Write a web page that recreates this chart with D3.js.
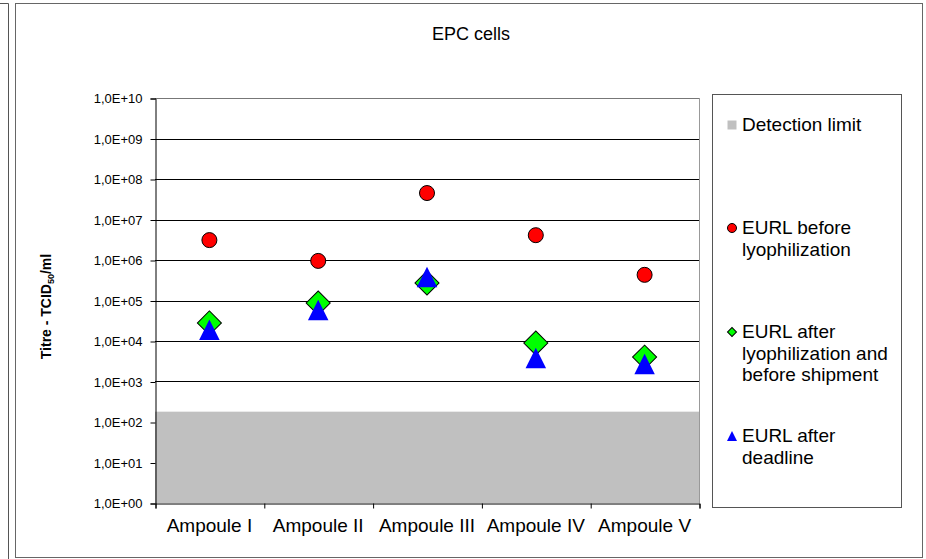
<!DOCTYPE html>
<html>
<head>
<meta charset="utf-8">
<script src="https://cdn.jsdelivr.net/npm/d3@7"></script>
<style>
  body { margin: 0; background: #fff; }
  svg { display: block; font-family: "Liberation Sans", Arial, sans-serif; }
</style>
</head>
<body>
<svg id="chart"></svg>
<script>
(function() {

    // Data
    const categories = ['Ampoule I', 'Ampoule II', 'Ampoule III', 'Ampoule IV', 'Ampoule V'];
    const detectionLimit = [180, 180, 180, 180, 180];
    const beforeLyo = [3.1e6, 9.5e5, 4.5e7, 4.1e6, 4.3e5];
    const afterLyo = [2.8e4, 8.7e4, 2.7e5, 8.9e3, 4.0e3];
    const afterDeadline = [1.9e4, 5.8e4, 3.8e5, 3.8e3, 2.7e3];
    const yTicks = [1e0, 1e1, 1e2, 1e3, 1e4, 1e5, 1e6, 1e7, 1e8, 1e9, 1e10];

    const w = 926;
    const h = 559;
    const plot = { left: 155, right: 699, top: 98, bottom: 503 };

    const svg = d3.select('#chart')
        .attr('width', w)
        .attr('height', h);

    // Frames
    svg.append('path')
        .attr('d', 'M0,3.5H8.5V559')
        .attr('fill', 'none')
        .attr('stroke', '#555');

    svg.append('rect')
        .attr('x', 15.5).attr('y', 3.5)
        .attr('width', 907).attr('height', 554)
        .attr('fill', '#fff')
        .attr('stroke', '#666');

    // Scales
    const scaleX = d3.scaleBand()
        .domain(categories)
        .range([plot.left, plot.right]);

    const scaleY = d3.scaleLog()
        .domain([1, 1e10])
        .range([plot.bottom, plot.top]);

    const fmt = d => '1,0E+' + String(Math.round(Math.log10(d))).padStart(2, '0');

    // Detection limit band
    svg.append('rect')
        .attr('x', plot.left)
        .attr('y', scaleY(detectionLimit[0]))
        .attr('width', plot.right - plot.left)
        .attr('height', plot.bottom - scaleY(detectionLimit[0]))
        .attr('fill', '#c0c0c0');

    // Gridlines
    svg.append('g')
        .selectAll('line')
        .data(yTicks.filter(d => d >= 1e3))
        .enter()
        .append('line')
        .attr('x1', plot.left)
        .attr('x2', plot.right)
        .attr('y1', d => Math.round(scaleY(d)) + 0.5)
        .attr('y2', d => Math.round(scaleY(d)) + 0.5)
        .attr('stroke', d => d === 1e10 ? '#777' : '#000');

    // right edge of plot
    svg.append('line')
        .attr('x1', plot.right + 0.5).attr('x2', plot.right + 0.5)
        .attr('y1', plot.top).attr('y2', plot.bottom)
        .attr('stroke', '#999');

    // Axes
    const yAxis = d3.axisLeft(scaleY)
        .tickValues(yTicks)
        .tickFormat(fmt)
        .tickSize(5)
        .tickPadding(8);

    const gy = svg.append('g')
        .attr('transform', `translate(${plot.left + 0.5}, 0.5)`)
        .call(yAxis);
    gy.select('.domain').attr('stroke', '#000');
    gy.selectAll('text')
        .attr('font-size', 13)
        .attr('font-family', '"Liberation Sans", Arial, sans-serif')
        .attr('fill', '#000');

    const xEdges = d3.axisBottom(d3.scaleLinear().domain([0, 5]).range([plot.left, plot.right]))
        .ticks(5)
        .tickSize(5)
        .tickFormat('');

    const gx = svg.append('g')
        .attr('transform', `translate(0.5, ${plot.bottom + 0.5})`)
        .call(xEdges);
    gx.select('.domain').attr('stroke', '#000');

    svg.append('g')
        .selectAll('text')
        .data(categories)
        .enter()
        .append('text')
        .attr('x', d => scaleX(d) + scaleX.bandwidth() / 2)
        .attr('y', 532)
        .attr('text-anchor', 'middle')
        .attr('font-size', 19)
        .text(d => d);

    // Title
    svg.append('text')
        .attr('x', 471)
        .attr('y', 40)
        .attr('text-anchor', 'middle')
        .attr('font-size', 18)
        .text('EPC cells');

    // Y axis title
    const yt = svg.append('text')
        .attr('transform', `translate(51, ${(plot.top + plot.bottom) / 2 + 6}) rotate(-90)`)
        .attr('text-anchor', 'middle')
        .attr('font-size', 14)
        .attr('font-weight', 'bold');
    yt.append('tspan').text('Titre - TCID');
    yt.append('tspan').attr('font-size', 9).attr('dy', 3).text('50');
    yt.append('tspan').attr('dy', -3).text('/ml');

    // Markers
    const cx = i => scaleX(categories[i]) + scaleX.bandwidth() / 2;

    const triangle = {
        draw(context, size) {
            const s = Math.sqrt(size);
            context.moveTo(0, -s / 2);
            context.lineTo(s / 2, s / 2);
            context.lineTo(-s / 2, s / 2);
            context.closePath();
        }
    };

    svg.append('g')
        .selectAll('path')
        .data(beforeLyo)
        .enter()
        .append('path')
        .attr('d', d3.symbol(d3.symbolCircle, 177))
        .attr('transform', (d, i) => `translate(${cx(i)}, ${scaleY(d)})`)
        .attr('fill', '#ff0000')
        .attr('stroke', '#000')
        .attr('stroke-width', 1);

    svg.append('g')
        .selectAll('path')
        .data(afterLyo)
        .enter()
        .append('path')
        .attr('d', d3.symbol(d3.symbolSquare, 289))
        .attr('transform', (d, i) => `translate(${cx(i)}, ${scaleY(d)}) rotate(45)`)
        .attr('fill', '#00ff00')
        .attr('stroke', '#000')
        .attr('stroke-width', 1);

    svg.append('g')
        .selectAll('path')
        .data(afterDeadline)
        .enter()
        .append('path')
        .attr('d', d3.symbol(triangle, 420))
        .attr('transform', (d, i) => `translate(${cx(i)}, ${scaleY(d)})`)
        .attr('fill', '#0000ff');

    // Legend
    svg.append('rect')
        .attr('x', 712.5).attr('y', 94.5)
        .attr('width', 189).attr('height', 413)
        .attr('fill', '#fff')
        .attr('stroke', '#555');

    const legendItems = [
        { lines: ['Detection limit'], y: 125, kind: 'square' },
        { lines: ['EURL before', 'lyophilization'], y: 228, kind: 'circle' },
        { lines: ['EURL after', 'lyophilization and', 'before shipment'], y: 332, kind: 'diamond' },
        { lines: ['EURL after', 'deadline'], y: 436, kind: 'triangle' }
    ];

    const lg = svg.append('g');
    legendItems.forEach(item => {
        const m = lg.append('path')
            .attr('transform', `translate(732, ${item.y})`);
        if (item.kind === 'square') {
            m.attr('d', d3.symbol(d3.symbolSquare, 81)).attr('fill', '#c0c0c0');
        } else if (item.kind === 'circle') {
            m.attr('d', d3.symbol(d3.symbolCircle, 64)).attr('fill', '#ff0000').attr('stroke', '#000');
        } else if (item.kind === 'diamond') {
            m.attr('d', d3.symbol(d3.symbolSquare, 40))
                .attr('transform', `translate(732, ${item.y}) rotate(45)`)
                .attr('fill', '#00ff00').attr('stroke', '#000');
        } else {
            m.attr('d', d3.symbol(triangle, 100)).attr('fill', '#0000ff');
        }
        const t = lg.append('text')
            .attr('x', 742)
            .attr('y', item.y + 6)
            .attr('font-size', 19);
        item.lines.forEach((line, i) => {
            t.append('tspan')
                .attr('x', 742)
                .attr('dy', i === 0 ? 0 : 21.5)
                .text(line);
        });
    });

})();
</script>
</body>
</html>
